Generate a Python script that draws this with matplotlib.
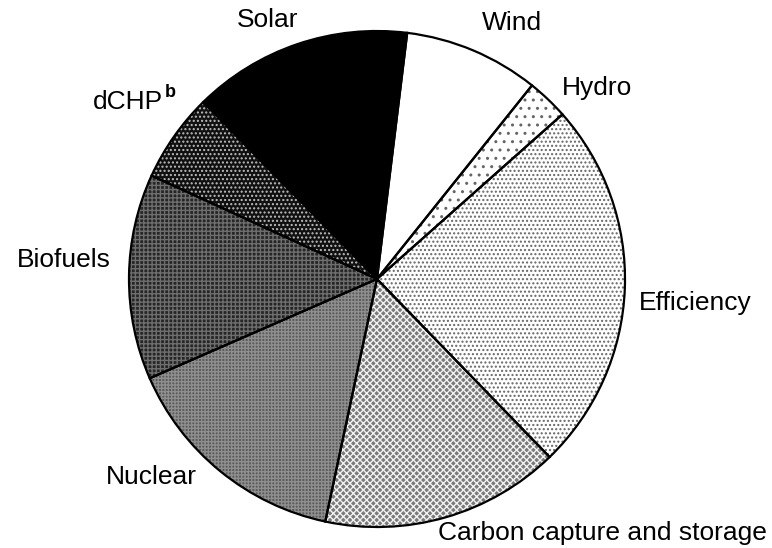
import numpy as np
import matplotlib
matplotlib.use('Agg')
import matplotlib.pyplot as plt

plt.rcParams['font.family'] = ['Liberation Sans', 'DejaVu Sans']

# shares, clockwise from Wind
labels = ['Wind', 'Hydro', 'Efficiency', 'Carbon capture and storage',
          'Nuclear', 'Biofuels', 'dCHP', 'Solar']
shares = [8.8, 2.7, 24.3, 15.6, 15.1, 13.4, 5.8, 14.3]

# fill tone, hatch pattern, hatch colour per wedge
faces = ['white', 'white', 'white', '#7a7a7a', '#5a5a5a', '#262626', '#101010', 'black']
hatches = [None, '..', '....', 'xxxxx', '+++++', '++++', '....', None]
hatch_cols = ['white', '#666666', '#666666', '#f2f2f2', '#8e8e8e', '#6e6e6e', '#bdbdbd', 'black']

# label anchor points (pie radius = 1)
label_pos = {
    'Solar': (-0.44, 1.044),
    'Wind': (0.544, 1.032),
    'Hydro': (0.887, 0.770),
    'Efficiency': (1.282, -0.097),
    'Carbon capture and storage': (0.911, -1.024),
    'Nuclear': (-0.911, -0.798),
    'Biofuels': (-1.262, 0.077),
}

fig = plt.figure(figsize=(7.72, 5.48), dpi=100)
ax = fig.add_axes([129 / 772, 21 / 548, 496 / 772, 496 / 548])

# pass 1: fills and hatches
fills, _ = ax.pie(shares, startangle=83, counterclock=False, radius=1,
                  wedgeprops=dict(linewidth=0))
for w, fc, h, hc in zip(fills, faces, hatches, hatch_cols):
    w.set_facecolor(fc)
    w.set_edgecolor(hc)
    w.set_linewidth(0)
    if h:
        w.set_hatch(h)

# pass 2: black outlines
ax.pie(shares, startangle=83, counterclock=False, radius=1,
       colors=['none'] * len(shares),
       wedgeprops=dict(linewidth=1.6, edgecolor='black', fill=False))

ax.set_xlim(-1, 1)
ax.set_ylim(-1, 1)
ax.set_aspect('equal')
ax.axis('off')

for name, (x, y) in label_pos.items():
    ax.text(x, y, name, ha='center', va='center', fontsize=19, clip_on=False)

ax.text(-0.863, 0.714, 'dCHP', ha='right', va='center', fontsize=19, clip_on=False)
ax.text(-0.855, 0.754, 'b', ha='left', va='center', fontsize=13,
        fontweight='bold', clip_on=False)

fig.savefig('out.png', dpi=100)
